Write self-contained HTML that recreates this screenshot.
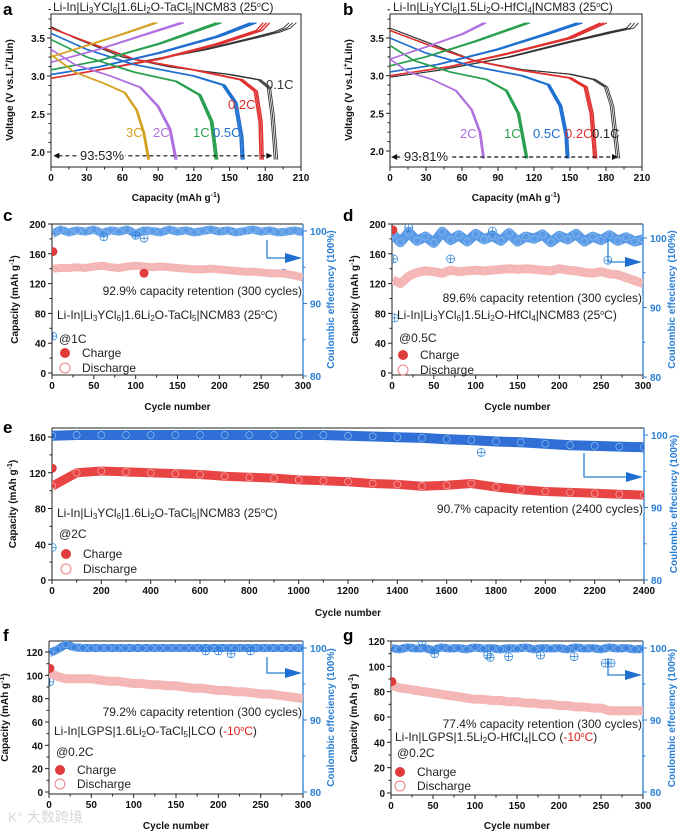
<!DOCTYPE html>
<html><head><meta charset="utf-8"><style>
html,body{margin:0;padding:0;background:#fff;}
svg{display:block;font-family:"Liberation Sans","Noto Sans CJK SC",sans-serif;}
.tk{font-size:10px;font-weight:bold;fill:#111;}
.tkb{font-size:10px;font-weight:bold;fill:#2a7fd4;}
.at{font-size:10px;font-weight:bold;fill:#111;}
.lb{font-size:17px;font-weight:bold;fill:#000;}
.tx{font-size:12px;fill:#222;}
</style></head><body>
<svg id="fig" width="685" height="833" viewBox="0 0 685 833" xmlns="http://www.w3.org/2000/svg"></svg>
<script>
// ---------- Data: voltage profiles (capacity, voltage) ----------
const aRates = ["0.1C","0.2C","0.5C","1C","2C","3C"];
const aColors = ["#333333","#e03030","#1f6fd0","#2aa050","#b070e0","#d4a020"];
const aDisCap = [[0,20,60,100,150,175,183,186,189],[0,30,70,120,160,172,176,177],[0,30,70,120,145,155,160,161],[0,30,70,105,125,135,139],[0,20,50,75,90,100,105],[0,20,45,62,72,78,82]];
const aDisV = [[3.65,3.5,3.25,3.12,3.02,2.95,2.85,2.5,1.9],[3.63,3.45,3.22,3.08,2.95,2.8,2.4,1.9],[3.56,3.35,3.15,3.0,2.88,2.65,2.2,1.9],[3.48,3.25,3.05,2.93,2.75,2.4,1.9],[3.35,3.15,3.0,2.85,2.6,2.3,1.9],[3.28,3.05,2.9,2.78,2.55,2.25,1.9]];
const aChCap = [[0,30,80,130,170,190,198,203],[0,40,90,140,175,181],[0,40,90,140,170],[0,40,90,141],[0,40,80,110],[0,30,60,88]];
const aChV = [[2.97,3.05,3.2,3.35,3.5,3.58,3.63,3.7],[2.97,3.08,3.22,3.42,3.6,3.7],[3.02,3.12,3.3,3.52,3.7],[3.08,3.2,3.42,3.7],[3.18,3.35,3.55,3.7],[3.25,3.4,3.55,3.7]];
const bRates = ["0.1C","0.2C","0.5C","1C","2C"];
const bColors = ["#333333","#e03030","#1f6fd0","#2aa050","#b070e0"];
const bDisCap = [[0,30,70,110,150,170,180,185,190],[0,30,70,110,150,163,168,171],[0,30,70,110,132,142,147,148],[0,20,50,80,97,107,114],[0,15,35,55,68,75,78]];
const bDisV = [[3.63,3.45,3.2,3.08,3.02,2.95,2.85,2.6,1.9],[3.6,3.42,3.2,3.07,2.97,2.85,2.5,1.9],[3.5,3.3,3.12,3.0,2.88,2.6,2.2,1.9],[3.4,3.2,3.05,2.95,2.8,2.5,1.9],[3.22,3.05,2.95,2.8,2.55,2.25,1.9]];
const bChCap = [[0,40,100,150,185,200,204],[0,50,100,150,178],[0,40,90,130,158],[0,30,70,115],[0,30,60,79]];
const bChV = [[2.98,3.07,3.25,3.45,3.58,3.63,3.7],[3.0,3.12,3.3,3.5,3.7],[3.05,3.15,3.35,3.55,3.7],[3.13,3.25,3.45,3.7],[3.22,3.38,3.55,3.7]];
const cycleOffsets = [0,-1.5,1.5];
const capTicks = [0,30,60,90,120,150,180,210];
const voltTicks = [2.0,2.5,3.0,3.5];

// ---------- Data: cycling ----------
const cyc300 = [1,10,20,30,40,50,60,70,80,90,100,110,120,130,140,150,160,170,180,190,200,210,220,230,240,250,260,270,280,290,300];
const cyc2400 = [1,100,200,300,400,500,600,700,800,900,1000,1100,1200,1300,1400,1500,1600,1700,1800,1900,2000,2100,2200,2300,2400];
const cDis = [140,141,141,142,141,143,144,142,141,143,144,143,142,143,142,141,140,139,139,140,139,138,137,136,136,135,134,134,133,131,128];
const cCE = [99.6,100.2,99.8,100.1,99.9,100.2,99.7,100.1,99.9,100.2,99.6,100.1,100.0,99.8,100.2,99.9,100.1,99.8,100.0,100.2,99.9,100.1,99.8,100.0,100.2,99.9,100.1,99.8,99.9,100.1,99.8];
const cChargeX = [1,110]; const cChargeY = [163,134];
const cCEoutX = [1,62,100,110,277]; const cCEoutY = [85.5,99.2,99.4,99.0,94.2];
const dDis = [125,120,130,135,137,136,134,138,136,137,138,137,138,139,140,139,140,139,138,137,140,138,137,135,134,136,133,132,128,124,120];
const dCE = [100.5,99.4,100.8,99.6,100.2,99.3,100.9,99.7,100.4,99.5,100.6,99.8,100.3,99.6,100.7,99.5,100.2,99.9,100.5,99.4,100.3,99.8,100.6,99.5,100.2,99.7,100.4,99.6,100.1,99.5,99.8];
const dChargeX = [1]; const dChargeY = [192];
const dCEoutX = [2,3,70,20,120,258]; const dCEoutY = [97.0,88.5,97.0,101.5,101.0,96.8];
const eDis = [105,120,122,121,120,119,118,116,115,114,112,111,110,108,107,105,106,108,104,101,99,98,97,96,95];
const eCE = [99.9,100,100,100,100,100,100,100,100,100,100,100,99.9,99.8,99.7,99.6,99.4,99.3,99.1,99.0,98.8,98.6,98.5,98.4,98.3];
const eChargeX = [1]; const eChargeY = [125];
const eCEoutX = [1,1740]; const eCEoutY = [84.5,97.6];
const fDis = [102,99,97,97,97,97,96,95,95,94,93,93,92,92,91,91,90,89,89,88,87,87,86,86,85,84,84,83,82,81,80];
const fCE = [99.3,99.8,100.5,100.1,100,100,100,100,100,100,100,100,100,100,100,100,100,100,100,100,100,100,100,100,100,100,100,100,100,100,100];
const fChargeX = [1]; const fChargeY = [106];
const fCEoutX = [1,185,200,215,238]; const fCEoutY = [95.3,99.6,99.6,99.2,99.6];
const gDis = [85,83,82,81,80,79,78,77,76,75,74,74,73,73,72,72,71,71,70,70,69,69,68,68,67,67,65,65,65,65,65];
const gCE = [100.0,99.8,100.1,99.9,100.0,99.7,100.1,99.9,100.0,99.8,100.1,99.9,100.0,99.8,100.0,99.9,100.1,99.8,100.0,99.9,100.0,99.8,100.1,99.9,100.0,99.8,100.1,99.9,100.0,99.8,99.9];
const gChargeX = [1]; const gChargeY = [88];
const gCEoutX = [52,115,118,140,178,218,255,262,37]; const gCEoutY = [99.2,99.0,98.7,98.8,99.0,98.8,97.9,97.9,100.9];
const tick300 = [0,50,100,150,200,250,300];
const tick2400 = [0,200,400,600,800,1000,1200,1400,1600,1800,2000,2200,2400];
const ticks200 = [0,40,80,120,160,200];
const ticks160 = [0,40,80,120,160];
const ticks120 = [0,20,40,60,80,100,120];
const ceTicks = [80,90,100];

// ---------- helpers ----------
const NS = "http://www.w3.org/2000/svg";
const svg = document.getElementById("fig");
function mk(tag, attrs, parent) {
  const el = document.createElementNS(NS, tag);
  for (const k in attrs) el.setAttribute(k, attrs[k]);
  (parent || svg).appendChild(el);
  return el;
}
function lin(d0, d1, p0, p1) { return v => p0 + (v - d0) * (p1 - p0) / (d1 - d0); }
function txt(x, y, s, cls, anchor, parent, name) {
  const t = mk("text", {x: x, y: y, class: cls, "text-anchor": anchor || "start"}, parent);
  t.innerHTML = s;
  
  
  return t;
}
function sub(s, rest) { return '<tspan font-size="8" dy="2">' + s + '</tspan><tspan dy="-2">' + rest + '</tspan>'; }
const sup = s => '<tspan font-size="7" dy="-4">' + s + '</tspan>';
function deg(prefix) { return prefix + sup('o') + '<tspan dy="4">C)</tspan>'; }

// ---------- voltage panels ----------
function voltPanel(cfg, rates, colors, dCap, dV, cCap, cV) {
  const g = mk("g", {});
  
  
  const X = lin(0, 210, cfg.x0, cfg.x1), Y = lin(2.0, 3.5, cfg.y20, cfg.y35);
  mk("rect", {x: cfg.x0, y: cfg.top, width: cfg.x1 - cfg.x0, height: cfg.bot - cfg.top, fill: "none", stroke: "#222", "stroke-width": 1}, g);
  capTicks.forEach(v => {
    mk("line", {x1: X(v), x2: X(v), y1: cfg.bot, y2: cfg.bot + 4, stroke: "#222"}, g);
    if (v < 210) mk("line", {x1: X(v + 15), x2: X(v + 15), y1: cfg.bot, y2: cfg.bot + 2.5, stroke: "#222"}, g);
    txt(X(v), cfg.bot + 14, v, "tk", "middle", g, "x-tick-label");
  });
  voltTicks.forEach(v => {
    mk("line", {x1: cfg.x0 - 4, x2: cfg.x0, y1: Y(v), y2: Y(v), stroke: "#222"}, g);
    [0.125, 0.25, 0.375].forEach(m => mk("line", {x1: cfg.x0 - 2.5, x2: cfg.x0, y1: Y(v + m), y2: Y(v + m), stroke: "#222"}, g));
    txt(cfg.x0 - 6, Y(v) + 4, v.toFixed(1), "tk", "end", g, "y-tick-label");
  });
  const clip = mk("clipPath", {id: cfg.name + "-clip"}, g);
  mk("rect", {x: cfg.x0, y: cfg.top, width: cfg.x1 - cfg.x0, height: cfg.bot - cfg.top}, clip);
  const lines = mk("g", {"clip-path": "url(#" + cfg.name + "-clip)"}, g);
  rates.forEach((r, i) => {
    cycleOffsets.forEach(o => {
      const pd = dCap[i].map((c, j) => (j ? "L" : "M") + X(c + o * (c / 200)).toFixed(1) + "," + Y(dV[i][j]).toFixed(1)).join("");
      const l1 = mk("path", {d: pd, fill: "none", stroke: colors[i], "stroke-width": i === 0 ? 0.9 : 1.4}, lines);
      
      
      const pc = cCap[i].map((c, j) => (j ? "L" : "M") + X(c + o * (c / 100)).toFixed(1) + "," + Y(cV[i][j]).toFixed(1)).join("");
      const l2 = mk("path", {d: pc, fill: "none", stroke: colors[i], "stroke-width": i === 0 ? 0.9 : 1.4}, lines);
      
      
    });
  });
  const ay = Y(cfg.arrowV);
  mk("line", {x1: X(cfg.arrowFrom) + 5, x2: X(cfg.arrowTo) - 5, y1: ay, y2: ay, stroke: "#111", "stroke-dasharray": "4,3", "stroke-width": 1.2}, g);
  mk("path", {d: `M${X(cfg.arrowFrom)},${ay} l6,-3 l0,6z M${X(cfg.arrowTo)},${ay} l-6,-3 l0,6z`, fill: "#111"}, g);
  txt(cfg.pctX, ay + 4, cfg.pct, "tx", "start", g, "efficiency-ratio-label").setAttribute("style", "font-size:13px;paint-order:stroke;stroke:#fff;stroke-width:3px");
  cfg.rateLabels.forEach(rl => {
    const t = txt(rl[1], rl[2], rl[0], "tx", "start", g, "rate-label");
    t.setAttribute("style", "font-size:13px;fill:" + rl[3]);
  });
  txt((cfg.x0 + cfg.x1) / 2, 201, 'Capacity (mAh g' + sup('-1') + '<tspan dy="4">)</tspan>', "at", "middle", g, "x-axis-title");
  const yt = txt(0, 0, 'Voltage (V vs.Li' + sup('+') + '<tspan dy="4">/LiIn)</tspan>', "at", "middle", g, "y-axis-title");
  yt.setAttribute("transform", `translate(${cfg.ytx},90) rotate(-90)`);
  txt(cfg.titleX, 11, cfg.title, "tx", "start", g, "panel-title").setAttribute("style", "font-size:12px");
  txt(cfg.lbX, 15, cfg.lb, "lb", "start", g, "panel-letter");
}
voltPanel({name: "panel-a", x0: 51, x1: 301, top: 14, bot: 167, y20: 152, y35: 38, arrowV: 1.95, arrowFrom: 2, arrowTo: 186, pct: "93.53%", pctX: 80,
  rateLabels: [["3C", 126, 137, "#d4a020"], ["2C", 153, 137, "#b070e0"], ["1C", 193, 137, "#2aa050"], ["0.5C", 213, 137, "#1f6fd0"], ["0.2C", 228, 109, "#e03030"], ["0.1C", 266, 89, "#333"]],
  ytx: 13, titleX: 53, title: 'Li-In|Li' + sub('3', 'YCl') + sub('6', '|1.6Li') + sub('2', 'O-TaCl') + sub('5', '|NCM83 ' + deg('(25')), lbX: 3, lb: "a"},
  aRates, aColors, aDisCap, aDisV, aChCap, aChV);
voltPanel({name: "panel-b", x0: 390, x1: 642, top: 14, bot: 167, y20: 151, y35: 38, arrowV: 1.92, arrowFrom: 1, arrowTo: 190, pct: "93.81%", pctX: 404,
  rateLabels: [["2C", 460, 138, "#b070e0"], ["1C", 504, 138, "#2aa050"], ["0.5C", 533, 138, "#1f6fd0"], ["0.2C", 565, 138, "#e03030"], ["0.1C", 592, 138, "#222"]],
  ytx: 352, titleX: 393, title: 'Li-In|Li' + sub('3', 'YCl') + sub('6', '|1.5Li') + sub('2', 'O-HfCl') + sub('4', '|NCM83 ' + deg('(25')), lbX: 343, lb: "b"},
  bRates, bColors, bDisCap, bDisV, bChCap, bChV);

// ---------- cycling panels ----------
function cyclePanel(cfg, cyc, dis, ce, chX, chY, oX, oY) {
  const g = mk("g", {});
  
  
  const X = lin(0, cfg.xmax, cfg.x0, cfg.x1);
  const YL = lin(0, cfg.ly1v, cfg.ly0, cfg.ly1);
  const YR = lin(80, 100, cfg.ry80, cfg.ry100);
  const blue = "#2a7fd4";
  mk("line", {x1: cfg.x0, x2: cfg.x1, y1: cfg.top, y2: cfg.top, stroke: "#222"}, g);
  mk("line", {x1: cfg.x0, x2: cfg.x1, y1: cfg.bot, y2: cfg.bot, stroke: "#222"}, g);
  mk("line", {x1: cfg.x0, x2: cfg.x0, y1: cfg.top, y2: cfg.bot, stroke: "#222"}, g);
  mk("line", {x1: cfg.x1, x2: cfg.x1, y1: cfg.top, y2: cfg.bot, stroke: blue, "stroke-width": 1.3}, g);
  cfg.xt.forEach((v, i) => {
    mk("line", {x1: X(v), x2: X(v), y1: cfg.bot, y2: cfg.bot + 4, stroke: "#222"}, g);
    if (i < cfg.xt.length - 1) { const m = (v + cfg.xt[i + 1]) / 2; mk("line", {x1: X(m), x2: X(m), y1: cfg.bot, y2: cfg.bot + 2.5, stroke: "#222"}, g); }
    txt(X(v), cfg.bot + 14, v, "tk", "middle", g, "x-tick-label");
  });
  cfg.lt.forEach((v, i) => {
    mk("line", {x1: cfg.x0 - 4, x2: cfg.x0, y1: YL(v), y2: YL(v), stroke: "#222"}, g);
    if (i < cfg.lt.length - 1) { const m = (v + cfg.lt[i + 1]) / 2; mk("line", {x1: cfg.x0 - 2.5, x2: cfg.x0, y1: YL(m), y2: YL(m), stroke: "#222"}, g); }
    txt(cfg.x0 - 6, YL(v) + 4, v, "tk", "end", g, "left-tick-label");
  });
  ceTicks.forEach((v, i) => {
    mk("line", {x1: cfg.x1, x2: cfg.x1 + 4, y1: YR(v), y2: YR(v), stroke: blue}, g);
    if (i < ceTicks.length - 1) mk("line", {x1: cfg.x1, x2: cfg.x1 + 2.5, y1: YR(v + 5), y2: YR(v + 5), stroke: blue}, g);
    txt(cfg.x1 + 7, YR(v) + 4, v, "tkb", "start", g, "right-tick-label");
  });
  const clip = mk("clipPath", {id: cfg.name + "-clip"}, g);
  mk("rect", {x: cfg.x0, y: cfg.top, width: cfg.x1 - cfg.x0, height: cfg.bot - cfg.top}, clip);
  const pg = mk("g", {"clip-path": "url(#" + cfg.name + "-clip)"}, g);
  const ceP = cyc.map((c, i) => (i ? "L" : "M") + X(c).toFixed(1) + "," + YR(ce[i]).toFixed(1)).join("");
  const ceBand = mk("path", {d: ceP, fill: "none", stroke: cfg.blueBand, "stroke-width": cfg.band, "stroke-linejoin": "round"}, pg);
  
  
  cyc.forEach((c, i) => {
    const m = mk("circle", {cx: X(c), cy: YR(ce[i]), r: 3.5, fill: "none", stroke: "#8fc0f0", "stroke-width": 0.7}, pg);
    
    
  });
  oX.forEach((c, i) => {
    const x = X(c), y = YR(oY[i]);
    const m = mk("path", {d: `M${x - 4},${y}h8M${x},${y - 4}v8`, stroke: blue, "stroke-width": 0.7}, pg);
    
    
    const c2 = mk("circle", {cx: x, cy: y, r: 4, fill: "none", stroke: blue, "stroke-width": 0.7}, pg);
    
    
  });
  const dp = cyc.map((c, i) => (i ? "L" : "M") + X(c).toFixed(1) + "," + YL(dis[i]).toFixed(1)).join("");
  const db = mk("path", {d: dp, fill: "none", stroke: cfg.redBand, "stroke-width": cfg.rband, "stroke-linejoin": "round"}, pg);
  
  
  cyc.forEach((c, i) => {
    const m = mk("circle", {cx: X(c), cy: YL(dis[i]), r: 3.5, fill: "none", stroke: "#f4b0b0", "stroke-width": 0.7}, pg);
    
    
  });
  chX.forEach((c, i) => {
    const m = mk("circle", {cx: X(c), cy: YL(chY[i]), r: 4.5, fill: "#e03c3c"}, pg);
    
    
  });
  const a = cfg.arrow;
  mk("path", {d: `M${a[0]},${a[1]}V${a[2]}H${cfg.x1 - 16}`, fill: "none", stroke: blue, "stroke-width": 1.3}, g);
  mk("path", {d: `M${cfg.x1 - 18},${a[2] - 5}L${cfg.x1 - 1},${a[2]}L${cfg.x1 - 18},${a[2] + 5}z`, fill: "#1f6fd0"}, g);
  const rt = txt(cfg.x1 - 1, cfg.retY, cfg.ret, "tx", "end", g, "retention-label");
  rt.setAttribute("style", "paint-order:stroke;stroke:#fff;stroke-width:3px");
  txt(cfg.infoX, cfg.infoY, cfg.info, "tx", "start", g, "cell-config-label");
  txt(cfg.infoX + 2, cfg.rateY, cfg.rate, "tx", "start", g, "rate-label");
  const lc = mk("circle", {cx: cfg.legX, cy: cfg.legY1 - 4, r: 5, fill: "#e03c3c"}, g);
  
  
  txt(cfg.legX + 17, cfg.legY1, "Charge", "tx", "start", g, "legend-charge");
  const ld = mk("circle", {cx: cfg.legX, cy: cfg.legY2 - 4, r: 5, fill: "none", stroke: "#f08080"}, g);
  
  
  txt(cfg.legX + 17, cfg.legY2, "Discharge", "tx", "start", g, "legend-discharge");
  txt((cfg.x0 + cfg.x1) / 2, cfg.xtY, "Cycle number", "at", "middle", g, "x-axis-title");
  const yl = txt(0, 0, 'Capacity (mAh g' + sup('-1') + '<tspan dy="4">)</tspan>', "at", "middle", g, "left-axis-title");
  yl.setAttribute("transform", `translate(${cfg.ylX},${(cfg.top + cfg.bot) / 2}) rotate(-90)`);
  const yr = txt(0, 0, 'Coulombic effeciency (100%)', "tkb", "middle", g, "right-axis-title");
  yr.setAttribute("transform", `translate(${cfg.yrX},${(cfg.top + cfg.bot) / 2}) rotate(-90)`);
  txt(cfg.lbX, cfg.lbY, cfg.lb, "lb", "start", g, "panel-letter");
}
const minus10 = ' (<tspan fill="#e02020">-10' + sup('o') + '<tspan dy="4">C</tspan></tspan>)';
const infoTa = 'Li-In|Li' + sub('3', 'YCl') + sub('6', '|1.6Li') + sub('2', 'O-TaCl') + sub('5', '|NCM83 ' + deg('(25'));
const infoHf = 'Li-In|Li' + sub('3', 'YCl') + sub('6', '|1.5Li') + sub('2', 'O-HfCl') + sub('4', '|NCM83 ' + deg('(25'));
cyclePanel({name: "panel-c", xmax: 300, x0: 52, x1: 303, top: 224, bot: 375, ly0: 373, ly1: 224, ly1v: 200, ry80: 376, ry100: 231, xt: tick300, lt: ticks200,
  band: 8, blueBand: "#5a9ae6", rband: 8, redBand: "#f4b8b8",
  arrow: [267, 240, 258], ret: "92.9% capacity retention (300 cycles)", retY: 295,
  info: infoTa, infoX: 57, infoY: 319, rate: "@1C", rateY: 343,
  legX: 65, legY1: 357, legY2: 372, xtY: 410, ylX: 18, yrX: 334, lbX: 3, lbY: 221, lb: "c"}, cyc300, cDis, cCE, cChargeX, cChargeY, cCEoutX, cCEoutY);
cyclePanel({name: "panel-d", xmax: 300, x0: 392, x1: 643, top: 224, bot: 375, ly0: 373, ly1: 224, ly1v: 200, ry80: 377, ry100: 238, xt: tick300, lt: ticks200,
  band: 10, blueBand: "#5a9ae6", rband: 9, redBand: "#f4b8b8",
  arrow: [608, 238, 262], ret: "89.6% capacity retention (300 cycles)", retY: 302,
  info: infoHf, infoX: 397, infoY: 319, rate: "@0.5C", rateY: 342,
  legX: 403, legY1: 359, legY2: 374, xtY: 410, ylX: 358, yrX: 675, lbX: 343, lbY: 221, lb: "d"}, cyc300, dDis, dCE, dChargeX, dChargeY, dCEoutX, dCEoutY);
cyclePanel({name: "panel-e", xmax: 2400, x0: 52, x1: 644, top: 428, bot: 580, ly0: 580, ly1: 437, ly1v: 160, ry80: 580, ry100: 435, xt: tick2400, lt: ticks160,
  band: 10, blueBand: "#2f6fd6", rband: 9, redBand: "#e84444",
  arrow: [584, 453, 477], ret: "90.7% capacity retention (2400 cycles)", retY: 513,
  info: infoTa, infoX: 57, infoY: 517, rate: "@2C", rateY: 538,
  legX: 66, legY1: 558, legY2: 573, xtY: 616, ylX: 16, yrX: 677, lbX: 3, lbY: 433, lb: "e"}, cyc2400, eDis, eCE, eChargeX, eChargeY, eCEoutX, eCEoutY);
cyclePanel({name: "panel-f", xmax: 300, x0: 49, x1: 303, top: 641, bot: 794, ly0: 792, ly1: 652, ly1v: 120, ry80: 792, ry100: 648, xt: tick300, lt: ticks120,
  band: 8, blueBand: "#3f85e0", rband: 9, redBand: "#f4b8b8",
  arrow: [267, 657, 673], ret: "79.2% capacity retention (300 cycles)", retY: 716,
  info: 'Li-In|LGPS|1.6Li' + sub('2', 'O-TaCl') + sub('5', '|LCO' + minus10), infoX: 54, infoY: 735, rate: "@0.2C", rateY: 756,
  legX: 60, legY1: 774, legY2: 788, xtY: 829, ylX: 8, yrX: 334, lbX: 3, lbY: 641, lb: "f"}, cyc300, fDis, fCE, fChargeX, fChargeY, fCEoutX, fCEoutY);
cyclePanel({name: "panel-g", xmax: 300, x0: 391, x1: 643, top: 641, bot: 795, ly0: 793, ly1: 641, ly1v: 120, ry80: 792, ry100: 648, xt: tick300, lt: ticks120,
  band: 8, blueBand: "#3f85e0", rband: 9, redBand: "#f4b8b8",
  arrow: [608, 658, 675], ret: "77.4% capacity retention (300 cycles)", retY: 728,
  info: 'Li-In|LGPS|1.5Li' + sub('2', 'O-HfCl') + sub('4', '|LCO' + minus10), infoX: 395, infoY: 741, rate: "@0.2C", rateY: 757,
  legX: 400, legY1: 776, legY2: 790, xtY: 829, ylX: 357, yrX: 675, lbX: 343, lbY: 641, lb: "g"}, cyc300, gDis, gCE, gChargeX, gChargeY, gCEoutX, gCEoutY);
const wm = txt(8, 822, "K° 大数跨境", "tx", "start", svg, "watermark");
wm.setAttribute("style", "font-size:14px;fill:#d8d8d8");
</script>
</body></html>
